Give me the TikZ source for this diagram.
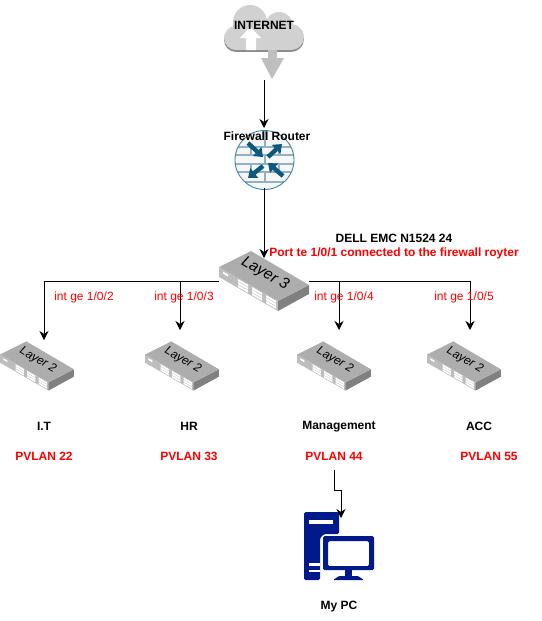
\documentclass[tikz,border=0pt]{standalone}
\usepackage{fontspec}
\setmainfont{Liberation Sans}
\usetikzlibrary{arrows.meta}
\definecolor{swtop}{HTML}{ADADAD}
\definecolor{swleft}{HTML}{BDBDBD}
\definecolor{swright}{HTML}{808080}
\definecolor{navypc}{HTML}{001A8C}
\definecolor{brick}{HTML}{8FB2C6}
\definecolor{fwarrow}{HTML}{0B5A7E}
\definecolor{fwring}{HTML}{3F86A3}
\tikzset{
  x=1pt,y=-1pt,
  anchorbox/.style={inner sep=0pt,outer sep=0pt,minimum width=#1},
  lbl/.style={font=\fontsize{12}{14}\selectfont\bfseries,inner sep=0pt},
  redlbl/.style={lbl,text=red},
  portlbl/.style={font=\fontsize{12}{14}\selectfont,text=red,inner sep=0pt},
  conn/.style={draw=black,line width=0.85pt},
  arr/.style={conn,-{Stealth[length=9pt,width=9pt]}},
  fwarr/.style={draw=fwarrow,line width=4.4pt,-{Triangle[length=8pt,width=12pt]}},
  bricks/.style={draw=brick,line width=2pt},
}
% switch body: centre x, centre y, scale, label, label size
\newcommand{\swbody}[5]{%
  \begin{scope}[shift={(#1,#2)},scale=#3]
    \fill[swleft] (-45,-14) -- (14,20) -- (14,30) -- (-45,-4) -- cycle;
    \fill[swright] (14,20) -- (45,4) -- (45,13) -- (14,30) -- cycle;
    \fill[swtop] (-45,-14) -- (-13,-30) -- (45,4) -- (14,20) -- cycle;
    \fill[white] (-41,-9.5) -- ++(5,2.9) -- ++(0,2.2) -- ++(-5,-2.9) -- cycle;
    \foreach \px in {-26,-12,2}{
      \foreach \off in {1,3.9,6.8}{
        \fill[white] (\px,{-14+(\px+45)*.576+\off}) -- ++(10,5.76) -- ++(0,2.2) -- ++(-10,-5.76) -- cycle;
      }
    }
    \node[rotate=-30,inner sep=0pt,font=\fontsize{#5}{#5}\selectfont\itshape] at (1,-7) {#4};
  \end{scope}}
\begin{document}
\begin{tikzpicture}
\useasboundingbox (0,0) rectangle (541,621);
% anchors
\node[anchorbox=80pt,minimum height=47pt] (cloud) at (264,28) {};
\node[anchorbox=59pt,minimum height=59pt] (fw) at (264.5,160) {};
\node[anchorbox=90pt,minimum height=60pt] (l3) at (264,281) {};
\node[anchorbox=74pt,minimum height=50pt] (sa) at (37,366) {};
\node[anchorbox=74pt,minimum height=50pt] (sb) at (182,366) {};
\node[anchorbox=74pt,minimum height=50pt] (sc) at (334,366) {};
\node[anchorbox=74pt,minimum height=50pt] (sd) at (464,366) {};
\node[anchorbox=70pt,minimum height=70pt] (pc) at (339,545) {};
\coordinate (cloudout) at (264,80);
\coordinate (fwin) at (264,128);
\coordinate (fwout) at (264,188);
\coordinate (l3in) at (264,258);
\coordinate (tapa) at (44,281);
\coordinate (tapb) at (180,281);
\coordinate (tapc) at (339,281);
\coordinate (tapd) at (470,281);
\coordinate (ina) at (44,340);
\coordinate (inb) at (180,330);
\coordinate (inc) at (339,330);
\coordinate (ind) at (470,330);
\coordinate (pcfrom) at (334,470);
\coordinate (pcto) at (341,518);
% bus lines behind switches
\draw[conn] (l3.west) -- (tapa);
\draw[conn] (l3.east) -- (tapd);
\draw[arr] (tapa) -- (ina);
\draw[arr] (tapb) -- (inb);
\draw[arr] (tapc) -- (inc);
\draw[arr] (tapd) -- (ind);
% cloud
\foreach \cfill/\dy in {black!45/2,black!18/0}{
  \begin{scope}[shift={(0,\dy)}]
    \fill[\cfill] (250,22) circle (17);
    \fill[\cfill] (279,26) circle (14);
    \fill[\cfill] (236,38) circle (12);
    \fill[\cfill] (291,37) circle (13);
    \fill[\cfill] (236,28) rectangle (291,50);
  \end{scope}
}
\fill[white] (250,27) -- (261,38) -- (256,38) -- (256,50) -- (246,50) -- (246,38) -- (240,38) -- cycle;
\fill[black!25] (268,50) -- (277,50) -- (277,58) -- (284,58) -- (272,79) -- (261,58) -- (268,58) -- cycle;
\node[lbl] (inet) at (264,25) {INTERNET};
% firewall
\begin{scope}
  \clip (fw.center) circle (29.5);
  \fill[black!3] (235,130) rectangle (295,190);
  \foreach \ly in {147,155,164,172,182}{\draw[bricks] (235,\ly) -- (295,\ly);}
  \foreach \lx in {251,279}{\draw[bricks] (\lx,147) -- (\lx,155) (\lx,164) -- (\lx,172);}
  \foreach \lx in {265}{\draw[bricks] (\lx,130) -- (\lx,147) (\lx,155) -- (\lx,164) (\lx,172) -- (\lx,182);}
\end{scope}
\draw[fwring,line width=0.9pt] (fw.center) circle (29.5);
\draw[fwarr] (248,143) -- (263,157);
\draw[fwarr] (268,157) -- (282,144);
\draw[fwarr] (263,166) -- (248,178);
\draw[fwarr] (283,176) -- (268,163);
\node[lbl] (fwlabel) at (267,136) {Firewall Router};
\draw[arr] (cloudout) -- (fwin);
% switches
\swbody{264}{281}{1}{Layer 3}{15.5}
\swbody{37}{366}{.82}{Layer 2}{12}
\swbody{182}{366}{.82}{Layer 2}{12}
\swbody{334}{366}{.82}{Layer 2}{12}
\swbody{464}{366}{.82}{Layer 2}{12}
\draw[arr] (fwout) -- (l3in);
% PC
\fill[navypc,rounded corners=1.5pt]
  (304,512) -- (339,512) -- (339,534) -- (324,534) -- (320,538) -- (320,580) -- (304,580) -- cycle;
\fill[white] (309,520) rectangle (333,524);
\fill[white] (309,563) rectangle (320,566);
\fill[white] (309,570) rectangle (320,572);
\fill[navypc,rounded corners=1.5pt,even odd rule] (323,536) rectangle (374,570) (328,541) rectangle (369,566);
\fill[navypc] (345,570) rectangle (352,576);
\fill[navypc,rounded corners=1pt] (333,580) -- (339,576) -- (358,576) -- (364,580) -- cycle;
\draw[arr] (pcfrom) -- (334,490) -- (341,490) -- (pcto);
% texts
\node[lbl] (dell) at (394,238.5) {DELL EMC N1524 24};
\node[redlbl] (port) at (394,253.5) {Port te 1/0/1 connected to the firewall royter};
\node[portlbl] (pa) at (84,297.5) {int ge 1/0/2};
\node[portlbl] (pb) at (184,297.5) {int ge 1/0/3};
\node[portlbl] (pc2) at (344,297.5) {int ge 1/0/4};
\node[portlbl] (pd) at (464,297.5) {int ge 1/0/5};
\node[lbl] (na) at (44,426.5) {I.T};
\node[lbl] (nb) at (189,426.5) {HR};
\node[lbl] (nc) at (339,426.5) {Management};
\node[lbl] (nd) at (479,426.5) {ACC};
\node[redlbl] (va) at (44,456.5) {PVLAN 22};
\node[redlbl] (vb) at (189,456.5) {PVLAN 33};
\node[redlbl] (vc) at (334,456.5) {PVLAN 44};
\node[redlbl] (vd) at (489,456.5) {PVLAN 55};
\node[lbl] (mypc) at (339,606.5) {My PC};
\end{tikzpicture}
\end{document}
